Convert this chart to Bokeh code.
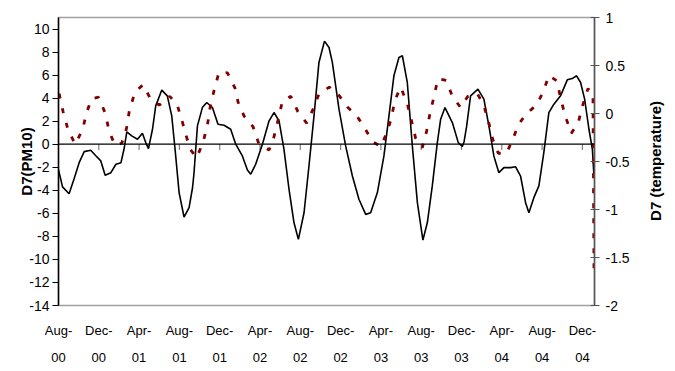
import math
from bokeh.plotting import figure
from bokeh.models import Range1d, LinearAxis, FixedTicker, Span, Label
from bokeh.embed import file_html
from bokeh.resources import INLINE

# ---- data (months since Aug-2000) ----
pm10_month = [0.0, 0.4, 1.05, 1.55, 2.05, 2.55, 3.2, 3.7, 4.2, 4.63, 5.2, 5.7, 6.2, 6.5, 6.78,
              7.27, 7.84, 8.33, 8.66, 8.93, 9.33, 9.65, 10.25, 10.8, 11.24, 11.57, 11.97, 12.46,
              12.96, 13.3, 13.45, 13.79, 14.28, 14.71, 15.28, 15.83, 16.43, 17.09, 17.59, 18.25,
              18.75, 19.08, 19.57, 20.24, 20.9, 21.39, 21.89, 22.38, 22.88, 23.37, 23.81, 24.37,
              24.86, 25.36, 25.85, 26.4, 26.85, 27.18, 27.84, 28.5, 29.17, 29.82, 30.49, 30.98,
              31.65, 32.3, 32.8, 33.29, 33.79, 34.13, 34.62, 35.12, 35.62, 36.17, 36.61, 37.1,
              37.6, 37.93, 38.36, 39.09, 39.68, 40.08, 40.25, 40.5, 40.9, 41.63, 42.22, 42.72,
              43.21, 43.71, 44.21, 44.87, 45.36, 45.86, 46.36, 46.69, 47.18, 47.68, 48.17, 48.67,
              49.17, 49.83, 50.5, 50.99, 51.42, 51.82, 52.22, 52.65, 52.99, 53.15]
pm10_value = [-2.2, -3.7, -4.3, -3.0, -1.6, -0.64, -0.52, -1.0, -1.45, -2.7, -2.47, -1.74, -1.6,
              -0.44, 1.07, 0.72, 0.43, 0.96, 0.14, -0.38, 1.3, 3.33, 4.7, 4.2, 2.46, -0.44, -4.2,
              -6.32, -5.5, -3.8, -2.5, 1.59, 3.18, 3.62, 3.18, 1.74, 1.65, 1.3, 0.0, -1.02, -2.23,
              -2.6, -1.74, 0.0, 2.03, 2.75, 2.03, -0.44, -3.91, -6.8, -8.26, -5.95, -1.89, 2.46,
              7.1, 8.95, 8.4, 7.1, 3.04, -0.15, -2.76, -4.78, -6.09, -5.95, -4.2, -1.02, 2.46,
              5.94, 7.53, 7.68, 5.36, -0.15, -5.07, -8.32, -6.8, -3.62, 0.14, 2.17, 3.18, 1.88,
              0.14, -0.2, 0.2, 1.5, 4.2, 4.78, 3.91, 1.59, -1.02, -2.47, -2.03, -2.03, -1.95,
              -2.76, -5.07, -5.95, -4.64, -3.62, -0.73, 2.75, 3.48, 4.2, 5.59, 5.7, 5.94, 5.36,
              3.91, 1.3, -0.44, -2.8]

temp_month = [0.06, 0.46, 0.95, 1.65, 2.38, 2.81, 3.3, 3.97, 4.63, 5.02, 5.59, 6.28, 6.75, 7.04,
              7.6, 8.4, 9.09, 10.0, 11.04, 11.77, 12.2, 12.63, 13.08, 13.72, 14.35, 14.78, 15.04,
              15.44, 15.93, 16.77, 17.52, 17.82, 18.41, 19.31, 19.9, 20.9, 21.39, 21.83, 22.22,
              23.05, 23.77, 24.63, 25.3, 25.86, 26.88, 27.84, 28.67, 29.56, 30.32, 31.15, 31.97,
              32.57, 33.03, 33.39, 33.96, 34.62, 35.02, 35.45, 36.11, 36.54, 36.87, 37.26, 37.66,
              38.49, 39.09, 39.91, 40.63, 41.57, 42.22, 42.72, 43.12, 43.65, 44.47, 45.1, 45.63,
              46.36, 47.42, 48.11, 48.67, 49.5, 49.83, 50.33, 50.89, 51.59, 52.05, 52.55, 53.05,
              53.15]
temp_value = [0.207, 0.017, -0.17, -0.32, -0.17, 0.017, 0.155, 0.17, 0.006, -0.18, -0.33, -0.31,
              -0.155, 0.034, 0.224, 0.3, 0.161, 0.086, 0.179, 0.093, -0.052, -0.217, -0.375,
              -0.46, -0.30, -0.121, 0.058, 0.241, 0.43, 0.424, 0.265, 0.12, -0.025, -0.138, -0.32,
              -0.38, -0.242, -0.052, 0.127, 0.179, 0.017, -0.10, 0.052, 0.207, 0.275, 0.189,
              0.068, -0.018, -0.138, -0.29, -0.345, -0.207, -0.052, 0.138, 0.275, 0.103, -0.069,
              -0.259, -0.355, -0.183, 0.0, 0.172, 0.362, 0.344, 0.179, 0.063, 0.179, 0.207,
              0.086, -0.103, -0.276, -0.414, -0.414, -0.266, -0.121, -0.01, 0.086, 0.224, 0.396,
              0.337, 0.155, -0.035, -0.207, -0.093, 0.093, 0.259, 0.207, -1.67]

tick_months = [0, 4, 8, 12, 16, 20, 24, 28, 32, 36, 40, 44, 48, 52]
tick_labels = ["Aug-\n00", "Dec-\n00", "Apr-\n01", "Aug-\n01", "Dec-\n01", "Apr-\n02", "Aug-\n02",
               "Dec-\n02", "Apr-\n03", "Aug-\n03", "Dec-\n03", "Apr-\n04", "Aug-\n04", "Dec-\n04"]
left_ticks = [-14, -12, -10, -8, -6, -4, -2, 0, 2, 4, 6, 8, 10]
right_ticks = [-2, -1.5, -1, -0.5, 0, 0.5, 1]
right_title = "D7 (temperature)"
right_title_pos = (59.25, -1.45)   # (month, PM10 units) just right of the secondary axis

FONT = "Liberation Sans"
FS = "14px"
XFS = "13px"
TFS = "15px"

p = figure(width=675, height=371, output_backend="svg", toolbar_location=None,
           x_range=Range1d(0, 53.2), y_range=Range1d(-14, 11),
           min_border_left=58, min_border_right=81, min_border_top=17, min_border_bottom=66,
           background_fill_color="white", border_fill_color="white")
p.xgrid.visible = False
p.ygrid.visible = False
p.outline_line_color = "#a0a0a0"
p.outline_line_width = 1.5

# x axis: labels only
xa = p.xaxis[0]
xa.ticker = FixedTicker(ticks=tick_months)
xa.major_label_overrides = {m: s for m, s in zip(tick_months, tick_labels)}
xa.axis_line_color = None
xa.major_tick_line_color = None
xa.minor_tick_line_color = None
xa.major_label_standoff = 11
xa.major_label_text_font = FONT
xa.major_label_text_font_size = XFS
xa.major_label_text_color = "black"
xa.major_label_text_line_height = 1.8

# left axis
ya = p.yaxis[0]
ya.ticker = FixedTicker(ticks=left_ticks)
ya.major_label_overrides = {t: f"{t:g}" for t in left_ticks}
ya.axis_line_color = "black"
ya.axis_line_width = 1.5
ya.major_tick_in = 0
ya.major_tick_out = 6
ya.major_tick_line_color = "black"
ya.minor_tick_line_color = None
ya.major_label_standoff = 3
ya.major_label_text_font = FONT
ya.major_label_text_font_size = FS
ya.major_label_text_color = "black"
ya.axis_label = "D7(PM10)"
ya.axis_label_text_font = FONT
ya.axis_label_text_font_size = TFS
ya.axis_label_text_font_style = "bold"
ya.axis_label_text_color = "black"
ya.axis_label_standoff = -9

# right axis
p.extra_y_ranges = {"temp": Range1d(-2, 1)}
ra = LinearAxis(y_range_name="temp", ticker=FixedTicker(ticks=right_ticks))
ra.major_label_overrides = {t: f"{t:g}" for t in right_ticks}
ra.axis_line_color = "#555555"
ra.axis_line_width = 1.5
ra.major_tick_in = 4
ra.major_tick_out = 5
ra.major_tick_line_color = "#555555"
ra.minor_tick_line_color = None
ra.major_label_standoff = 6
ra.major_label_text_font = FONT
ra.major_label_text_font_size = FS
ra.major_label_text_color = "black"
p.add_layout(ra, "right")

# right axis title (reads bottom to top), placed in the right side panel
p.add_layout(Label(x=right_title_pos[0], y=right_title_pos[1], text=right_title,
                   angle=math.pi / 2, text_align="center", text_baseline="middle",
                   text_font=FONT, text_font_size=TFS, text_font_style="bold",
                   text_color="black"), "right")

# zero line and category ticks on it
p.add_layout(Span(location=0, dimension="width", line_color="black", line_width=1.2))
p.segment(x0=tick_months[1:], y0=[0] * (len(tick_months) - 1),
          x1=tick_months[1:], y1=[-0.5] * (len(tick_months) - 1),
          line_color="#808080", line_width=1.2)

# series
p.line(pm10_month, pm10_value, line_color="black", line_width=1.6)
p.line(temp_month, temp_value, y_range_name="temp", line_color="#800000",
       line_width=2.8, line_dash="5 10")

open("out.html", "w").write(file_html(p, INLINE))
